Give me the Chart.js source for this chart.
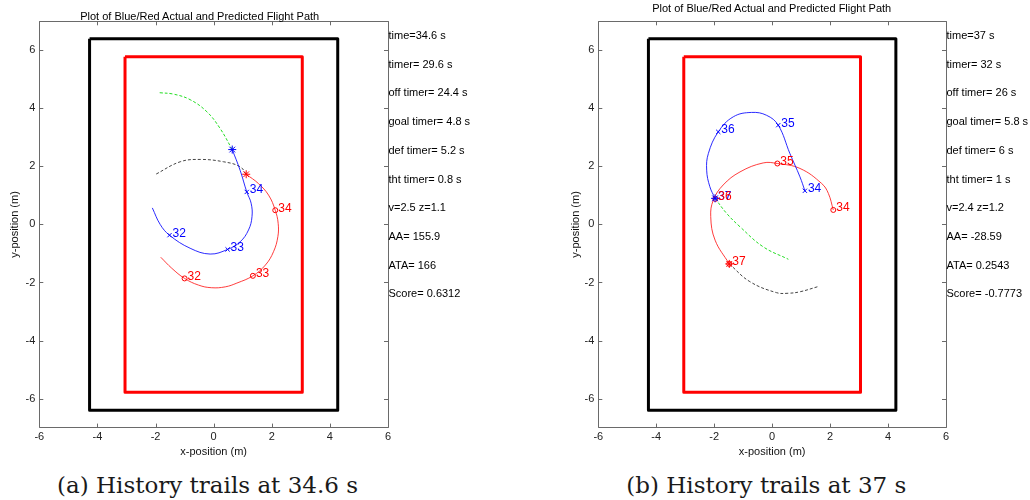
<!DOCTYPE html>
<html>
<head>
<meta charset="utf-8">
<script src="https://cdn.jsdelivr.net/npm/chart.js@4/dist/chart.umd.min.js"></script>
<style>
  body { margin: 0; background: #fff; }
  #page { position: relative; width: 1030px; height: 500px; overflow: hidden; font-family: "Liberation Sans", Arial, sans-serif; }
  canvas { position: absolute; }
  .ttl { position: absolute; font-size: 11px; color: #000; white-space: nowrap; transform: translate(-50%, -50%); }
  .info { position: absolute; font-size: 11px; color: #000; white-space: nowrap; line-height: 13px; transform: translateY(-50%); }
  .cap { position: absolute; font-family: "DejaVu Serif", serif; font-size: 23px; color: #1a1a1a; white-space: nowrap; transform: translate(-50%, -50%); }
</style>
</head>
<body>
<div id="page">
  <canvas id="plotA" width="400" height="470" style="left:0px;top:0px"></canvas>
  <canvas id="plotB" width="424" height="470" style="left:560px;top:0px"></canvas>
</div>
<script>
// axis ticks
var xTicks = [-6, -4, -2, 0, 2, 4, 6];
var yTicks = [-6, -4, -2, 0, 2, 4, 6];

// arena boundaries (same in both frames)
var outerX = [-4.27, 4.27, 4.27, -4.27, -4.27];
var outerY = [6.4, 6.4, -6.4, -6.4, 6.4];
var innerX = [-3.05, 3.05, 3.05, -3.05, -3.05];
var innerY = [5.78, 5.78, -5.78, -5.78, 5.78];

// ---- frame (a) : 34.6 s ----
var blueTrailAX = [-2.11, -1.84, -1.52, -0.81, -0.12, 0.48, 0.91, 1.20, 1.32, 1.29, 1.14, 0.91, 0.64];
var blueTrailAY = [0.57, 0.00, -0.37, -0.82, -1.02, -0.86, -0.60, -0.19, 0.27, 0.73, 1.12, 1.87, 2.58];
var redTrailAX = [-1.82, -1.44, -1.00, -0.52, -0.08, 0.40, 0.80, 1.35, 1.78, 2.06, 2.21, 2.22, 2.12, 1.89, 1.54, 1.12];
var redTrailAY = [-1.13, -1.51, -1.86, -2.09, -2.18, -2.15, -2.02, -1.77, -1.40, -0.94, -0.42, 0.04, 0.49, 1.01, 1.41, 1.73];
var bluePredAX = [0.64, 0.22, -0.23, -0.81, -1.38, -1.87];
var bluePredAY = [2.58, 3.31, 3.88, 4.30, 4.49, 4.54];
var redPredAX = [1.12, 0.91, 0.34, -0.46, -1.15, -2.01];
var redPredAY = [1.73, 1.99, 2.16, 2.24, 2.16, 1.72];
var blueMarkAX = [-1.52, 0.48, 1.14];
var blueMarkAY = [-0.37, -0.86, 1.12];
var blueMarkALabels = ["32", "33", "34"];
var redMarkAX = [-1.00, 1.35, 2.12];
var redMarkAY = [-1.86, -1.77, 0.49];
var redMarkALabels = ["32", "33", "34"];
var blueNowA = [0.64, 2.58];
var redNowA = [1.12, 1.73];
var infoA = ["time=34.6 s", "timer= 29.6 s", "off timer= 24.4 s", "goal timer= 4.8 s", "def timer= 5.2 s",
  "tht timer= 0.8 s", "v=2.5 z=1.1", "AA= 155.9", "ATA= 166", "Score= 0.6312"];

// ---- frame (b) : 37 s ----
var blueTrailBX = [1.13, 0.96, 0.61, 0.21, -0.19, -0.71, -1.34, -1.86, -2.20, -2.26, -2.15, -1.97];
var blueTrailBY = [1.16, 1.64, 2.45, 3.42, 3.76, 3.86, 3.71, 3.19, 2.45, 1.87, 1.30, 0.90];
var redTrailBX = [2.11, 1.94, 1.71, 0.96, 0.18, -0.31, -1.11, -1.69, -2.03, -2.12, -1.97, -1.48];
var redTrailBY = [0.50, 1.07, 1.41, 1.93, 2.10, 2.12, 1.81, 1.36, 0.84, 0.27, -0.54, -1.36];
var bluePredBX = [-1.97, -1.57, -1.11, -0.31, 0.56];
var bluePredBY = [0.90, 0.38, -0.08, -0.77, -1.20];
var redPredBX = [-1.48, -0.77, 0.15, 0.56, 0.96, 1.59];
var redPredBY = [-1.36, -1.97, -2.35, -2.37, -2.32, -2.14];
var blueMarkBX = [1.13, 0.21, -1.86, -1.97];
var blueMarkBY = [1.16, 3.42, 3.19, 0.90];
var blueMarkBLabels = ["34", "35", "36", "37"];
var redMarkBX = [2.11, 0.18, -1.96, -1.48];
var redMarkBY = [0.50, 2.10, 0.88, -1.36];
var redMarkBLabels = ["34", "35", "36", "37"];
var blueNowB = [-1.97, 0.90];
var redNowB = [-1.48, -1.36];
var infoB = ["time=37 s", "timer= 32 s", "off timer= 26 s", "goal timer= 5.8 s", "def timer= 6 s",
  "tht timer= 1 s", "v=2.4 z=1.2", "AA= -28.59", "ATA= 0.2543", "Score= -0.7773"];

var plotTitle = "Plot of Blue/Red Actual and Predicted Flight Path";
var captions = ["(a) History trails at 34.6 s", "(b) History trails at 37 s"];

function pts(xs, ys) {
  return xs.map(function (x, i) { return { x: x, y: ys[i] }; });
}

// box with inward tick marks + point labels, matlab style
var matlabAxes = {
  id: 'matlabAxes',
  afterDatasetsDraw: function (chart) {
    var ctx = chart.ctx;
    var a = chart.chartArea;
    var xs = chart.scales.x, ys = chart.scales.y;

    // text labels next to the time markers
    ctx.save();
    ctx.font = '12px "Liberation Sans", Arial, sans-serif';
    ctx.textAlign = 'left';
    ctx.textBaseline = 'middle';
    chart.data.datasets.forEach(function (ds, di) {
      if (!ds.pointLabels) return;
      var meta = chart.getDatasetMeta(di);
      ctx.fillStyle = ds.borderColor;
      meta.data.forEach(function (el, i) {
        ctx.fillText(ds.pointLabels[i], el.x + 3, el.y - 2);
      });
    });
    ctx.restore();

    ctx.save();
    ctx.strokeStyle = '#6a6a6a';
    ctx.lineWidth = 1;
    ctx.beginPath();
    ctx.rect(Math.round(a.left) + 0.5, Math.round(a.top) + 0.5, Math.round(a.right - a.left), Math.round(a.bottom - a.top));
    xs.ticks.forEach(function (t) {
      var px = Math.round(xs.getPixelForValue(t.value)) + 0.5;
      ctx.moveTo(px, a.bottom); ctx.lineTo(px, a.bottom - 4);
      ctx.moveTo(px, a.top); ctx.lineTo(px, a.top + 4);
    });
    ys.ticks.forEach(function (t) {
      var py = Math.round(ys.getPixelForValue(t.value)) + 0.5;
      ctx.moveTo(a.left, py); ctx.lineTo(a.left + 4, py);
      ctx.moveTo(a.right, py); ctx.lineTo(a.right - 4, py);
    });
    ctx.stroke();
    ctx.restore();
  }
};

function makePlot(id, f) {
  var tickFont = { family: '"Liberation Sans", Arial, sans-serif', size: 11 };
  new Chart(document.getElementById(id), {
    type: 'scatter',
    data: {
      datasets: [
        { data: [{ x: f.blueNow[0], y: f.blueNow[1] }], pointStyle: 'star', pointRadius: 4, borderColor: '#0000ff', borderWidth: 1 },
        { data: [{ x: f.redNow[0], y: f.redNow[1] }], pointStyle: 'star', pointRadius: 4, borderColor: '#ff0000', borderWidth: 1 },
        { data: pts(f.blueMarkX, f.blueMarkY), pointLabels: f.blueLabels, pointStyle: 'crossRot', pointRadius: 3, borderColor: '#0000ff', borderWidth: 1 },
        { data: pts(f.redMarkX, f.redMarkY), pointLabels: f.redLabels, pointStyle: 'circle', pointRadius: 2.5, backgroundColor: 'rgba(0,0,0,0)', borderColor: '#ff0000', borderWidth: 1 },
        { data: pts(f.blueTrailX, f.blueTrailY), showLine: true, pointRadius: 0, borderColor: 'rgba(20,20,255,0.9)', borderWidth: 1, tension: 0.4 },
        { data: pts(f.redTrailX, f.redTrailY), showLine: true, pointRadius: 0, borderColor: 'rgba(255,40,40,0.9)', borderWidth: 1, tension: 0.4 },
        { data: pts(f.bluePredX, f.bluePredY), showLine: true, pointRadius: 0, borderColor: '#22dd22', borderWidth: 1, borderDash: [3, 2], tension: 0.4 },
        { data: pts(f.redPredX, f.redPredY), showLine: true, pointRadius: 0, borderColor: '#444444', borderWidth: 1, borderDash: [3, 2], tension: 0.4 },
        { data: pts(innerX, innerY), showLine: true, pointRadius: 0, borderColor: '#ff0000', borderWidth: 3, borderJoinStyle: 'round', tension: 0 },
        { data: pts(outerX, outerY), showLine: true, pointRadius: 0, borderColor: '#000000', borderWidth: 3, borderJoinStyle: 'round', tension: 0 }
      ]
    },
    options: {
      responsive: false,
      animation: false,
      layout: { padding: { left: 0, right: f.padRight, top: 21.3, bottom: 10 } },
      plugins: { legend: { display: false }, tooltip: { enabled: false } },
      scales: {
        x: {
          type: 'linear', min: -6, max: 6,
          afterBuildTicks: function (s) { s.ticks = xTicks.map(function (v) { return { value: v }; }); },
          afterFit: function (s) { s.height = 32.4; },
          grid: { display: false, drawTicks: false },
          border: { display: false },
          ticks: { padding: 3, color: '#222', font: tickFont, maxRotation: 0 },
          title: { display: true, text: 'x-position (m)', color: '#111', font: tickFont, padding: { top: 0, bottom: 1.4 } }
        },
        y: {
          type: 'linear', min: -7, max: 7,
          afterBuildTicks: function (s) { s.ticks = yTicks.map(function (v) { return { value: v }; }); },
          afterFit: function (s) { s.width = f.yWidth; },
          grid: { display: false, drawTicks: false },
          border: { display: false },
          ticks: { padding: 4, color: '#222', font: tickFont },
          title: { display: true, text: 'y-position (m)', color: '#111', font: tickFont, padding: { top: f.yTitlePad, bottom: 0 } }
        }
      }
    },
    plugins: [matlabAxes]
  });
}

makePlot('plotA', {
  blueTrailX: blueTrailAX, blueTrailY: blueTrailAY, redTrailX: redTrailAX, redTrailY: redTrailAY,
  bluePredX: bluePredAX, bluePredY: bluePredAY, redPredX: redPredAX, redPredY: redPredAY,
  blueMarkX: blueMarkAX, blueMarkY: blueMarkAY, blueLabels: blueMarkALabels,
  redMarkX: redMarkAX, redMarkY: redMarkAY, redLabels: redMarkALabels,
  blueNow: blueNowA, redNow: redNowA,
  yWidth: 39.3, padRight: 12, yTitlePad: 8.4
});

makePlot('plotB', {
  blueTrailX: blueTrailBX, blueTrailY: blueTrailBY, redTrailX: redTrailBX, redTrailY: redTrailBY,
  bluePredX: bluePredBX, bluePredY: bluePredBY, redPredX: redPredBX, redPredY: redPredBY,
  blueMarkX: blueMarkBX, blueMarkY: blueMarkBY, blueLabels: blueMarkBLabels,
  redMarkX: redMarkBX, redMarkY: redMarkBY, redLabels: redMarkBLabels,
  blueNow: blueNowB, redNow: redNowB,
  yWidth: 38.3, padRight: 38, yTitlePad: 9.4
});

// titles, info columns and captions as plain text
var page = document.getElementById('page');
function addText(cls, text, left, top) {
  var d = document.createElement('div');
  d.className = cls;
  d.textContent = text;
  d.style.left = left + 'px';
  d.style.top = top + 'px';
  page.appendChild(d);
}
addText('ttl', plotTitle, 199.7, 15.7);
addText('ttl', plotTitle, 771.7, 8.3);
infoA.forEach(function (s, i) { addText('info', s, 388.5, 35 + i * 28.7); });
infoB.forEach(function (s, i) { addText('info', s, 946.5, 35 + i * 28.7); });
addText('cap', captions[0], 207.5, 485);
addText('cap', captions[1], 766.3, 485);
</script>
</body>
</html>
